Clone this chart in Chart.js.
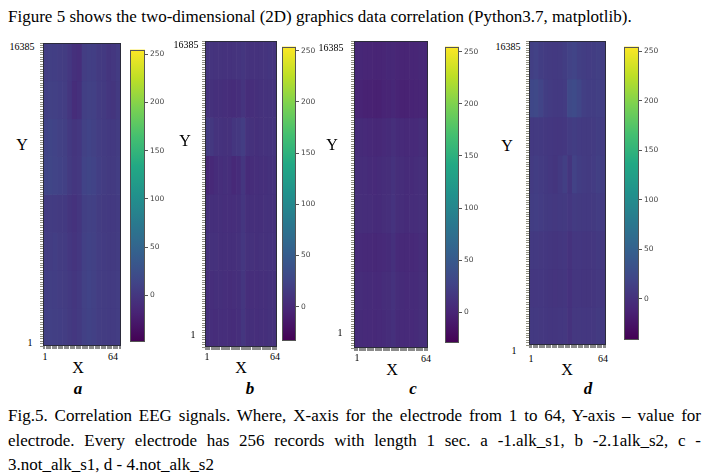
<!DOCTYPE html>
<html>
<head>
<meta charset="utf-8">
<title>Fig.5 Correlation EEG signals</title>
<script src="https://cdn.jsdelivr.net/npm/chart.js"></script>
<style>
    body {
        margin: 0;
        width: 702px;
        height: 476px;
        position: relative;
        overflow: hidden;
        background: #fff;
        font-family: "Liberation Serif", "Times New Roman", serif;
        color: #000;
    }
    canvas { position: absolute; }
    .lbl {
        position: absolute;
        white-space: nowrap;
        line-height: 1;
        transform: translate(-50%, -50%);
    }
    .small { font-size: 10px; }
    .axname { font-size: 16px; }
    .tag { font-size: 17px; font-weight: bold; font-style: italic; }
    .line {
        position: absolute;
        left: 8px;
        width: 693px;
        font-size: 17px;
        line-height: 1;
        white-space: nowrap;
    }
    .just { text-align: justify; text-align-last: justify; white-space: normal; }
</style>
</head>
<body>

<div class="line" style="top:8px">Figure 5 shows the two-dimensional (2D) graphics data correlation (Python3.7, matplotlib).</div>
<div class="line just" style="top:407px">Fig.5. Correlation EEG signals. Where, X-axis for the electrode from 1 to 64, Y-axis – value for</div>
<div class="line just" style="top:432px">electrode. Every electrode has 256 records with length 1 sec. a -1.alk_s1, b -2.1alk_s2, c -</div>
<div class="line" style="top:456px">3.not_alk_s1, d - 4.not_alk_s2</div>

<script>
    // ---- data ----
    // heatmap cells: 8 bands of records (top -> bottom) x 16 groups of 4 electrodes
    const panelTags = ['a', 'b', 'c', 'd'];
    const yEndLabels = ['16385', '1'];
    const xEndLabels = ['1', '64'];
    const axisNames = ['X', 'Y'];
    const cbTicks = [0, 50, 100, 150, 200, 250];
    const cbMin = [-48, -33, -29, -41];
    const cbMax = [255, 254, 255, 255];
    const yMin = 1;
    const yMax = 16385;

    const valuesA = [
        [6, 8, 7, 6, 5, 0, -6, -8, 6, 8, 7, 3, 2, -2, 0, 4],
        [8, 10, 9, 7, 6, -1, -9, -6, 8, 10, 9, 4, 3, -1, -2, 3],
        [12, 14, 12, 10, 8, 2, -2, 0, 10, 12, 10, 6, 4, 2, 2, 5],
        [14, 15, 13, 11, 9, 3, -1, 1, 12, 14, 12, 7, 5, 3, 3, 6],
        [4, 5, 4, 3, 2, -2, -4, -1, 8, 10, 9, 5, 3, 2, 2, 4],
        [6, 6, 7, 5, 4, 0, -3, 0, 9, 11, 10, 6, 4, 3, 3, 5],
        [7, 8, 7, 6, 5, 2, -1, 2, 10, 12, 10, 6, 5, 4, 4, 6],
        [8, 9, 8, 7, 6, 3, 0, 3, 9, 11, 9, 6, 5, 4, 4, 6]
    ];
    const valuesB = [
        [10, 10, 9, 9, 8, 8, 9, 10, 12, 9, 8, 8, 9, 10, 11, 10],
        [8, 7, 6, 6, 5, 4, 3, 5, 10, 4, 5, 6, 7, 8, 9, 9],
        [16, 14, 9, 8, 7, 7, 12, 14, 18, 8, 7, 6, 7, 8, 9, 10],
        [-2, 0, 3, 5, 6, 5, 0, 3, 12, 2, 4, 5, 6, 6, 7, 8],
        [6, 6, 6, 6, 5, 5, 5, 6, 12, 6, 6, 6, 6, 7, 7, 7],
        [7, 7, 7, 6, 6, 6, 6, 7, 13, 7, 7, 6, 7, 7, 8, 8],
        [5, 5, 6, 6, 5, 4, 5, 6, 12, 5, 5, 5, 6, 6, 7, 7],
        [6, 5, 4, 5, 5, 4, 3, 5, 12, 6, 6, 5, 6, 6, 7, 7]
    ];
    const valuesC = [
        [2, 2, 1, 1, 0, 0, 1, 2, 3, 1, 0, 0, 1, 1, 3, 2],
        [0, -1, -2, -2, -3, -3, -1, 0, 2, -1, -2, -2, -1, 0, 1, 0],
        [6, 6, 5, 4, 3, 3, 5, 6, 9, 6, 5, 4, 5, 5, 7, 6],
        [8, 7, 7, 6, 5, 6, 7, 8, 12, 8, 7, 6, 6, 7, 9, 8],
        [8, 8, 7, 7, 6, 6, 8, 9, 13, 8, 7, 6, 7, 7, 9, 8],
        [5, 5, 4, 4, 3, 4, 5, 6, 10, 5, 4, 4, 4, 5, 7, 6],
        [7, 7, 6, 6, 5, 5, 7, 8, 12, 7, 6, 5, 6, 6, 8, 7],
        [6, 6, 5, 5, 4, 5, 6, 7, 10, 6, 5, 5, 5, 6, 8, 7]
    ];
    const valuesD = [
        [14, 16, 12, 10, 9, 8, 9, 12, 16, 18, 14, 12, 11, 12, 14, 12],
        [22, 24, 18, 12, 10, 8, 8, 10, 24, 26, 20, 14, 12, 12, 14, 13],
        [8, 9, 8, 7, 6, 5, 5, 6, 10, 12, 10, 9, 9, 10, 12, 11],
        [10, 12, 10, 8, 6, 4, 8, 14, 4, 16, 12, 10, 9, 11, 14, 12],
        [12, 13, 11, 9, 8, 7, 8, 9, 6, 10, 9, 8, 8, 9, 11, 10],
        [8, 8, 7, 6, 5, 4, 5, 6, 2, 6, 6, 5, 5, 6, 8, 7],
        [6, 6, 6, 5, 4, 3, 4, 5, 1, 5, 5, 4, 4, 5, 7, 6],
        [8, 8, 7, 6, 5, 5, 6, 7, 2, 7, 7, 6, 6, 7, 9, 8]
    ];
    const allValues = [valuesA, valuesB, valuesC, valuesD];

    // electrode groups (x categories)
    const groups = [];
    for (let g = 0; g < 16; g++) groups.push((g * 4 + 1) + '-' + (g * 4 + 4));

    // ---- page layout (pixel boxes) ----
    const layout = [
        { hm: [43, 43, 78, 303], cb: [130, 44, 15, 303], y16385: [22, 47], y1: [30, 343], Y: [22, 145], x1: [45, 357], x64: [113, 357], X: [78, 368], tag: [78, 388] },
        { hm: [205, 41, 72, 306], cb: [282, 41, 14, 305], y16385: [186, 45], y1: [193, 335], Y: [185, 141], x1: [207, 357], x64: [275, 357], X: [241, 368], tag: [250, 388] },
        { hm: [354, 41, 74, 307], cb: [445, 41, 14, 307], y16385: [331, 48], y1: [340, 333], Y: [332, 145], x1: [357, 358], x64: [426, 359], X: [392, 370], tag: [413, 388] },
        { hm: [529, 41, 77, 304], cb: [624, 41, 15, 304], y16385: [508, 47], y1: [514, 351], Y: [507, 146], x1: [531, 359], x64: [603, 359], X: [567, 370], tag: [588, 388] }
    ];

    const viridisStops = ['#440154', '#482475', '#414487', '#355f8d', '#2a788e', '#21918c',
                          '#22a884', '#44bf70', '#7ad151', '#bddf26', '#fde725'];

    function hexRgb(h) {
        return [parseInt(h.substr(1, 2), 16), parseInt(h.substr(3, 2), 16), parseInt(h.substr(5, 2), 16)];
    }

    function viridis(t) {
        t = Math.max(0, Math.min(1, t));
        const p = t * (viridisStops.length - 1);
        const i = Math.min(Math.floor(p), viridisStops.length - 2);
        const f = p - i;
        const a = hexRgb(viridisStops[i]), b = hexRgb(viridisStops[i + 1]);
        const c = a.map((v, k) => Math.round(v + (b[k] - v) * f));
        return `rgb(${c[0]},${c[1]},${c[2]})`;
    }

    // draws the thin frame round the plot area
    const framePlugin = {
        id: 'frame',
        afterDraw(chart, args, opts) {
            const a = chart.chartArea;
            const ctx = chart.ctx;
            ctx.save();
            ctx.strokeStyle = opts.color || '#333';
            ctx.lineWidth = 1;
            ctx.strokeRect(Math.round(a.left) + 0.5, Math.round(a.top) + 0.5,
                           Math.round(a.right - a.left) - 1, Math.round(a.bottom - a.top) - 1);
            ctx.restore();
        }
    };

    function addLabel(text, pos, cls) {
        const d = document.createElement('div');
        d.className = 'lbl ' + cls;
        d.style.left = pos[0] + 'px';
        d.style.top = pos[1] + 'px';
        d.textContent = text;
        document.body.appendChild(d);
    }

    function addCanvas(left, top, w, h) {
        const c = document.createElement('canvas');
        c.width = w;
        c.height = h;
        c.style.left = left + 'px';
        c.style.top = top + 'px';
        c.style.width = w + 'px';
        c.style.height = h + 'px';
        document.body.appendChild(c);
        return c;
    }

    function drawHeatmap(p) {
        const L = layout[p];
        const vals = allValues[p];
        const lo = cbMin[p], hi = cbMax[p];
        const band = (yMax - yMin) / vals.length;
        const [x, y, w, h] = L.hm;
        const cv = addCanvas(x - 4, y - 1, w + 5, h + 5);

        const datasets = vals.map((row, r) => ({
            data: row.map(() => [yMax - (r + 1) * band, yMax - r * band]),
            backgroundColor: row.map(v => viridis((v - lo) / (hi - lo))),
            borderWidth: 0,
            grouped: false,
            barPercentage: 1,
            categoryPercentage: 1
        }));

        new Chart(cv, {
            type: 'bar',
            data: { labels: groups, datasets: datasets },
            options: {
                responsive: false,
                animation: false,
                devicePixelRatio: 1,
                layout: { padding: { top: 1, right: 1, left: 0, bottom: 0 } },
                plugins: { legend: { display: false }, tooltip: { enabled: false }, frame: { color: '#2b2b3b' } },
                scales: {
                    x: { display: false },
                    xe: {
                        type: 'linear', position: 'bottom', min: 0.5, max: 64.5,
                        afterBuildTicks: s => { const t = []; for (let i = 1; i <= 64; i++) t.push({ value: i }); s.ticks = t; },
                        afterFit: s => { s.height = 4; },
                        ticks: { display: false, autoSkip: false },
                        grid: { drawOnChartArea: false, tickLength: 3, color: '#8a8a8a', lineWidth: 1 },
                        border: { display: false }
                    },
                    y: {
                        type: 'linear', min: yMin, max: yMax,
                        afterBuildTicks: s => { const t = []; for (let v = yMin; v <= yMax; v += 128) t.push({ value: v }); s.ticks = t; },
                        afterFit: s => { s.width = 4; },
                        ticks: { display: false, autoSkip: false },
                        grid: { drawOnChartArea: false, tickLength: 3, color: '#8f8f80', lineWidth: 1 },
                        border: { display: false }
                    }
                }
            },
            plugins: [framePlugin]
        });
    }

    function drawColorbar(p) {
        const L = layout[p];
        const lo = cbMin[p], hi = cbMax[p];
        const [x, y, w, h] = L.cb;
        const cv = addCanvas(x - 1, y - 1, w + 32, h + 2);

        new Chart(cv, {
            type: 'bar',
            data: {
                labels: ['cb'],
                datasets: [{
                    data: [[lo, hi]],
                    borderWidth: 0,
                    barPercentage: 1,
                    categoryPercentage: 1,
                    backgroundColor: ctx => {
                        const a = ctx.chart.chartArea;
                        if (!a) return '#fff';
                        const g = ctx.chart.ctx.createLinearGradient(0, a.bottom, 0, a.top);
                        for (let i = 0; i <= 20; i++) g.addColorStop(i / 20, viridis(i / 20));
                        return g;
                    }
                }]
            },
            options: {
                responsive: false,
                animation: false,
                devicePixelRatio: 1,
                layout: { padding: { top: 1, bottom: 1, left: 1, right: 0 } },
                plugins: { legend: { display: false }, tooltip: { enabled: false }, frame: { color: '#555' } },
                scales: {
                    x: { display: false },
                    y: {
                        position: 'right', min: lo, max: hi,
                        afterBuildTicks: s => { s.ticks = cbTicks.map(v => ({ value: v })); },
                        afterFit: s => { s.width = 31; },
                        ticks: {
                            autoSkip: false, padding: 2, color: '#444',
                            font: { family: 'DejaVu Sans', size: 7.5 }
                        },
                        grid: { drawOnChartArea: false, tickLength: 3, color: '#555', lineWidth: 1 },
                        border: { display: false }
                    }
                }
            },
            plugins: [framePlugin]
        });
    }

    for (let p = 0; p < 4; p++) {
        drawHeatmap(p);
        drawColorbar(p);
        const L = layout[p];
        addLabel(yEndLabels[0], L.y16385, 'small');
        addLabel(yEndLabels[1], L.y1, 'small');
        addLabel(xEndLabels[0], L.x1, 'small');
        addLabel(xEndLabels[1], L.x64, 'small');
        addLabel(axisNames[0], L.X, 'axname');
        addLabel(axisNames[1], L.Y, 'axname');
        addLabel(panelTags[p], L.tag, 'tag');
    }
</script>

</body>
</html>
